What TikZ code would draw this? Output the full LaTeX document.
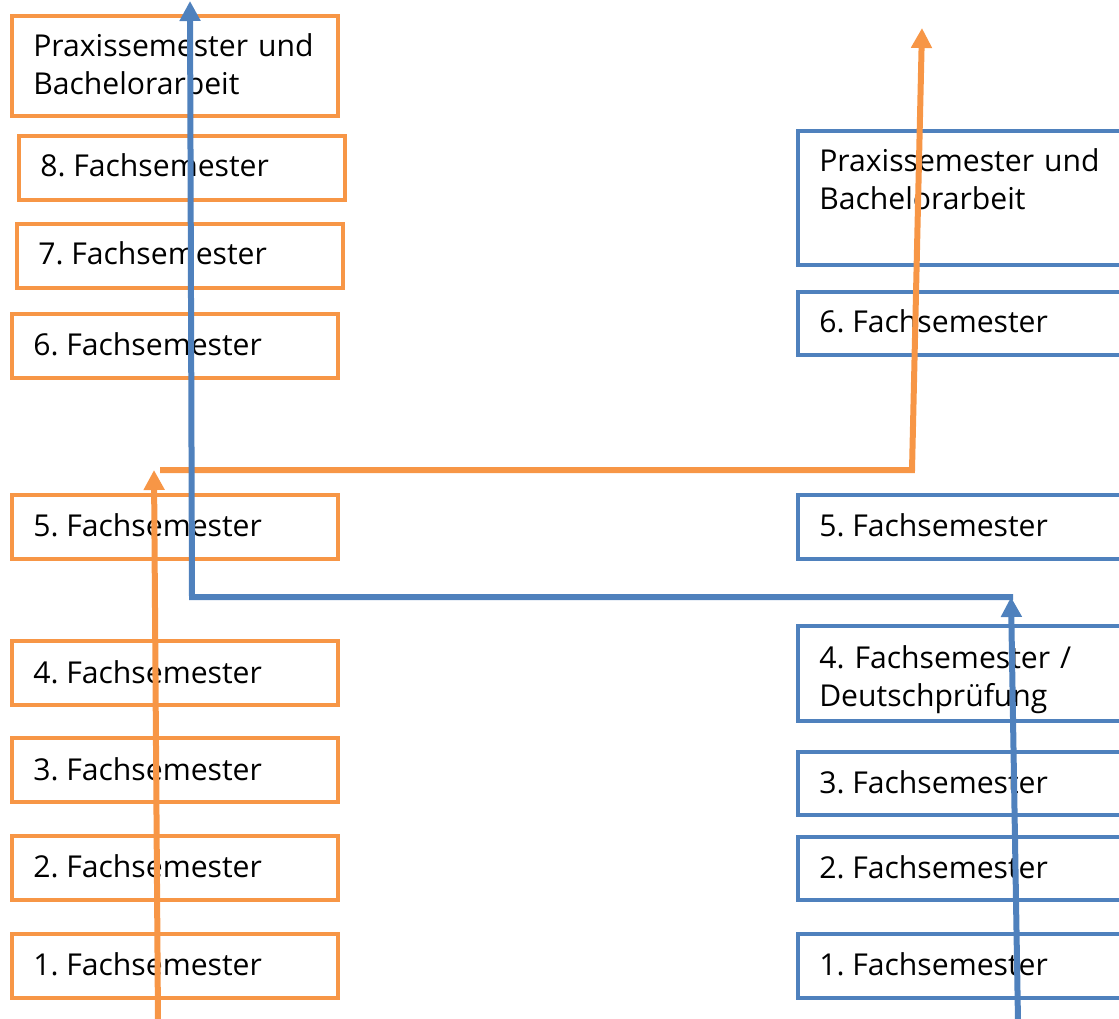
\documentclass[tikz,border=0pt]{standalone}
\usepackage{fontspec}
\setmainfont{Open Sans}
\usetikzlibrary{arrows.meta}
\definecolor{oorange}{HTML}{F79646}
\definecolor{oblue}{HTML}{4F81BD}
\frenchspacing
\begin{document}
\begin{tikzpicture}[x=0.75pt,y=-0.75pt,
  obox/.style={draw=oorange,line width=3pt,minimum width=244.5pt,minimum height=48pt,inner sep=0pt},
  bbox/.style={draw=oblue,line width=3pt,minimum width=252.75pt,minimum height=48pt,inner sep=0pt},
  lbl/.style={anchor=base west,inner sep=0pt,font=\fontsize{22.6}{28.5}\selectfont\frenchspacing},
  lbl2/.style={lbl,text width=250pt,align=left},
  oarr/.style={draw=oorange,line width=4.5pt,-{Triangle[width=15pt,length=15pt]}},
  barr/.style={draw=oblue,line width=4.5pt,-{Triangle[width=15pt,length=15pt]}}]
\useasboundingbox (0,0) rectangle (1119,1019);
\clip (0,0) rectangle (1119,1019);
% left boxes
\node[obox,minimum height=75pt] (lP) at (175,66) {};
\node[obox] (l8) at (181.5,168) {};
\node[obox] (l7) at (179.5,256) {};
\node[obox] (l6) at (175,346) {};
\node[obox] (l5) at (175,527) {};
\node[obox] (l4) at (175,673) {};
\node[obox] (l3) at (175,770) {};
\node[obox] (l2) at (175,868) {};
\node[obox] (l1) at (175,966) {};
\node[lbl2] (tlP) at (33,57) {Praxissemester und\\Bachelorarbeit};
\node[lbl] (tl8) at (40,177) {8. Fachsemester};
\node[lbl] (tl7) at (38,265) {7. Fachsemester};
\node[lbl] (tl6) at (33,356) {6. Fachsemester};
\node[lbl] (tl5) at (33,536) {5. Fachsemester};
\node[lbl] (tl4) at (33,683) {4. Fachsemester};
\node[lbl] (tl3) at (33,780) {3. Fachsemester};
\node[lbl] (tl2) at (33,877) {2. Fachsemester};
\node[lbl] (tl1) at (33,975) {1. Fachsemester};
% right boxes
\node[bbox,minimum height=100.5pt] (rP) at (966.5,198) {};
\node[bbox,minimum height=47.25pt] (r6) at (966.5,323.5) {};
\node[bbox] (r5) at (966.5,527) {};
\node[bbox,minimum height=71.25pt] (r4) at (966.5,673.5) {};
\node[bbox,minimum height=47.25pt] (r3) at (966.5,783.5) {};
\node[bbox,minimum height=47.25pt] (r2) at (966.5,868.5) {};
\node[bbox] (r1) at (966.5,966) {};
\node[lbl2] (trP) at (819,172) {Praxissemester und\\Bachelorarbeit};
\node[lbl] (tr6) at (819,333) {6. Fachsemester};
\node[lbl] (tr5) at (819,536) {5. Fachsemester};
\node[lbl2] (tr4) at (819,668) {4. Fachsemester /\\Deutschprüfung};
\node[lbl] (tr3) at (819,793) {3. Fachsemester};
\node[lbl] (tr2) at (819,878) {2. Fachsemester};
\node[lbl] (tr1) at (819,975) {1. Fachsemester};
% connectors
\coordinate (oS) at (158,1022);
\coordinate (oT) at (154,470);
\coordinate (oH1) at (160,470);
\coordinate (oH2) at (912,470);
\coordinate (oE) at (922,28);
\coordinate (bS) at (1018,1022);
\coordinate (bT) at (1011,597);
\coordinate (bH1) at (1013,597);
\coordinate (bH2) at (192,597);
\coordinate (bE) at (190,1);
\draw[oarr] (oS) -- (oT);
\draw[oarr] (oH1) -- (oH2) -- (oE);
\draw[barr] (bS) -- (bT);
\draw[barr] (bH1) -- (bH2) -- (bE);
\end{tikzpicture}
\end{document}
